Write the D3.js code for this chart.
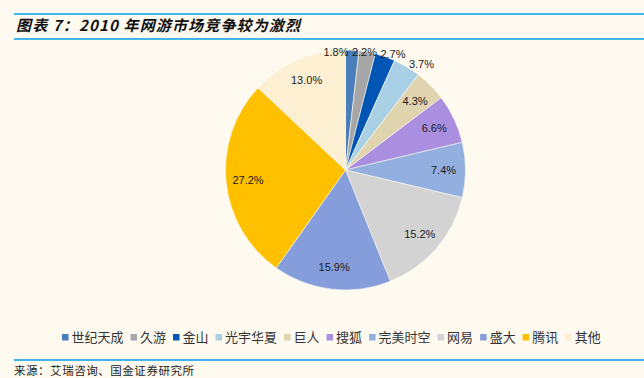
<!DOCTYPE html>
<html>
<head>
<meta charset="utf-8">
<title>2010 年网游市场竞争较为激烈</title>
<script src="https://cdn.jsdelivr.net/npm/d3@7"></script>
<style>
    body { margin: 0; background: #fefaf0; }
    svg { display: block; }
</style>
</head>
<body>
<svg id="chart" width="644" height="378"></svg>
<script>
    // data
    const companies = ["世纪天成", "久游", "金山", "光宇华夏", "巨人", "搜狐", "完美时空", "网易", "盛大", "腾讯", "其他"];
    const shares = [1.8, 2.2, 2.7, 3.7, 4.3, 6.6, 7.4, 15.2, 15.9, 27.2, 13.0];
    const colors = ["#4a7ebb", "#a6a6a6", "#0055b5", "#a9d0e4", "#e0d4ae", "#aa8fe0", "#92afe0", "#d3d3d3", "#859ddb", "#ffc000", "#fdf0d2"];

    const W = 644, H = 378;
    const cx = 345.5, cy = 170, radius = 120;
    const lineColor = "#00a0e9";
    const cjk = "'Noto Sans CJK SC', 'Noto Sans', sans-serif";

    const svg = d3.select("#chart");

    svg.append("rect").attr("width", W).attr("height", H).attr("fill", "#fefaf0");

    // title block
    svg.append("line")
        .attr("x1", 14).attr("x2", W).attr("y1", 14).attr("y2", 14)
        .attr("stroke", lineColor).attr("stroke-width", 1.6);
    svg.append("line")
        .attr("x1", 14).attr("x2", W).attr("y1", 39).attr("y2", 39)
        .attr("stroke", lineColor).attr("stroke-width", 1.6);
    svg.append("text")
        .attr("x", 16).attr("y", 31)
        .attr("font-family", cjk)
        .attr("font-size", "15px")
        .attr("font-weight", "bold")
        .attr("font-style", "italic")
        .attr("fill", "#111")
        .attr("textLength", 284)
        .attr("lengthAdjust", "spacing")
        .text("图表 7：2010 年网游市场竞争较为激烈");

    // pie
    const pie = d3.pie().sort(null).value(d => d);
    const arcs = pie(shares);
    const arc = d3.arc().innerRadius(0).outerRadius(radius);

    const g = svg.append("g").attr("transform", `translate(${cx},${cy})`);

    g.selectAll("path.slice")
        .data(arcs)
        .enter().append("path")
        .attr("class", "slice")
        .attr("d", arc)
        .attr("fill", (d, i) => colors[i])
        .attr("stroke", "#fefaf0")
        .attr("stroke-width", 0.6);

    // labels: inside for big slices, just outside for the small ones
    const inner = d3.arc().innerRadius(98).outerRadius(98);
    const outer = d3.arc().innerRadius(123).outerRadius(123);
    const labels = arcs.map(d => {
        const p = d.data < 4 ? outer.centroid(d) : inner.centroid(d);
        return {x: p[0], y: p[1], text: d.data.toFixed(1) + "%", out: d.data < 4};
    });

    // push overlapping outside labels apart
    const lw = 28.5, lh = 11;
    const outs = labels.filter(l => l.out).sort((a, b) => a.x - b.x);
    for (let k = 0; k < 30; k++) {
        for (let i = 0; i < outs.length - 1; i++) {
            const a = outs[i], b = outs[i + 1];
            const dx = b.x - a.x;
            if (dx < lw && Math.abs(b.y - a.y) < lh) {
                const push = (lw - dx) / 2;
                a.x -= push;
                b.x += push;
            }
        }
    }
    outs.forEach(l => { if (l.y < -118) l.y = -118; });

    g.selectAll("text.lbl")
        .data(labels)
        .enter().append("text")
        .attr("class", "lbl")
        .attr("x", d => d.x)
        .attr("y", d => d.y)
        .attr("dy", "0.35em")
        .attr("text-anchor", "middle")
        .attr("font-family", "'Liberation Sans', Arial, sans-serif")
        .attr("font-size", "11px")
        .attr("fill", "#1a1a1a")
        .text(d => d.text);

    // legend
    const legend = svg.append("g").attr("transform", "translate(62, 337.5)");
    let lx = 0;
    companies.forEach((name, i) => {
        const item = legend.append("g").attr("transform", `translate(${lx},0)`);
        item.append("rect")
            .attr("x", 0).attr("y", -3.5)
            .attr("width", 6.5).attr("height", 6.5)
            .attr("fill", colors[i]);
        const t = item.append("text")
            .attr("x", 9.5).attr("y", 0)
            .attr("dy", "0.36em")
            .attr("font-family", cjk)
            .attr("font-size", "13px")
            .attr("fill", "#333")
            .text(name);
        lx += 9.5 + t.node().getComputedTextLength() + 7;
    });

    // source
    svg.append("line")
        .attr("x1", 14).attr("x2", W).attr("y1", 360).attr("y2", 360)
        .attr("stroke", lineColor).attr("stroke-width", 1.6);
    svg.append("text")
        .attr("x", 14).attr("y", 375)
        .attr("font-family", cjk)
        .attr("font-size", "11.5px")
        .attr("fill", "#222")
        .attr("textLength", 180)
        .attr("lengthAdjust", "spacing")
        .text("来源：艾瑞咨询、国金证券研究所");
</script>
</body>
</html>
